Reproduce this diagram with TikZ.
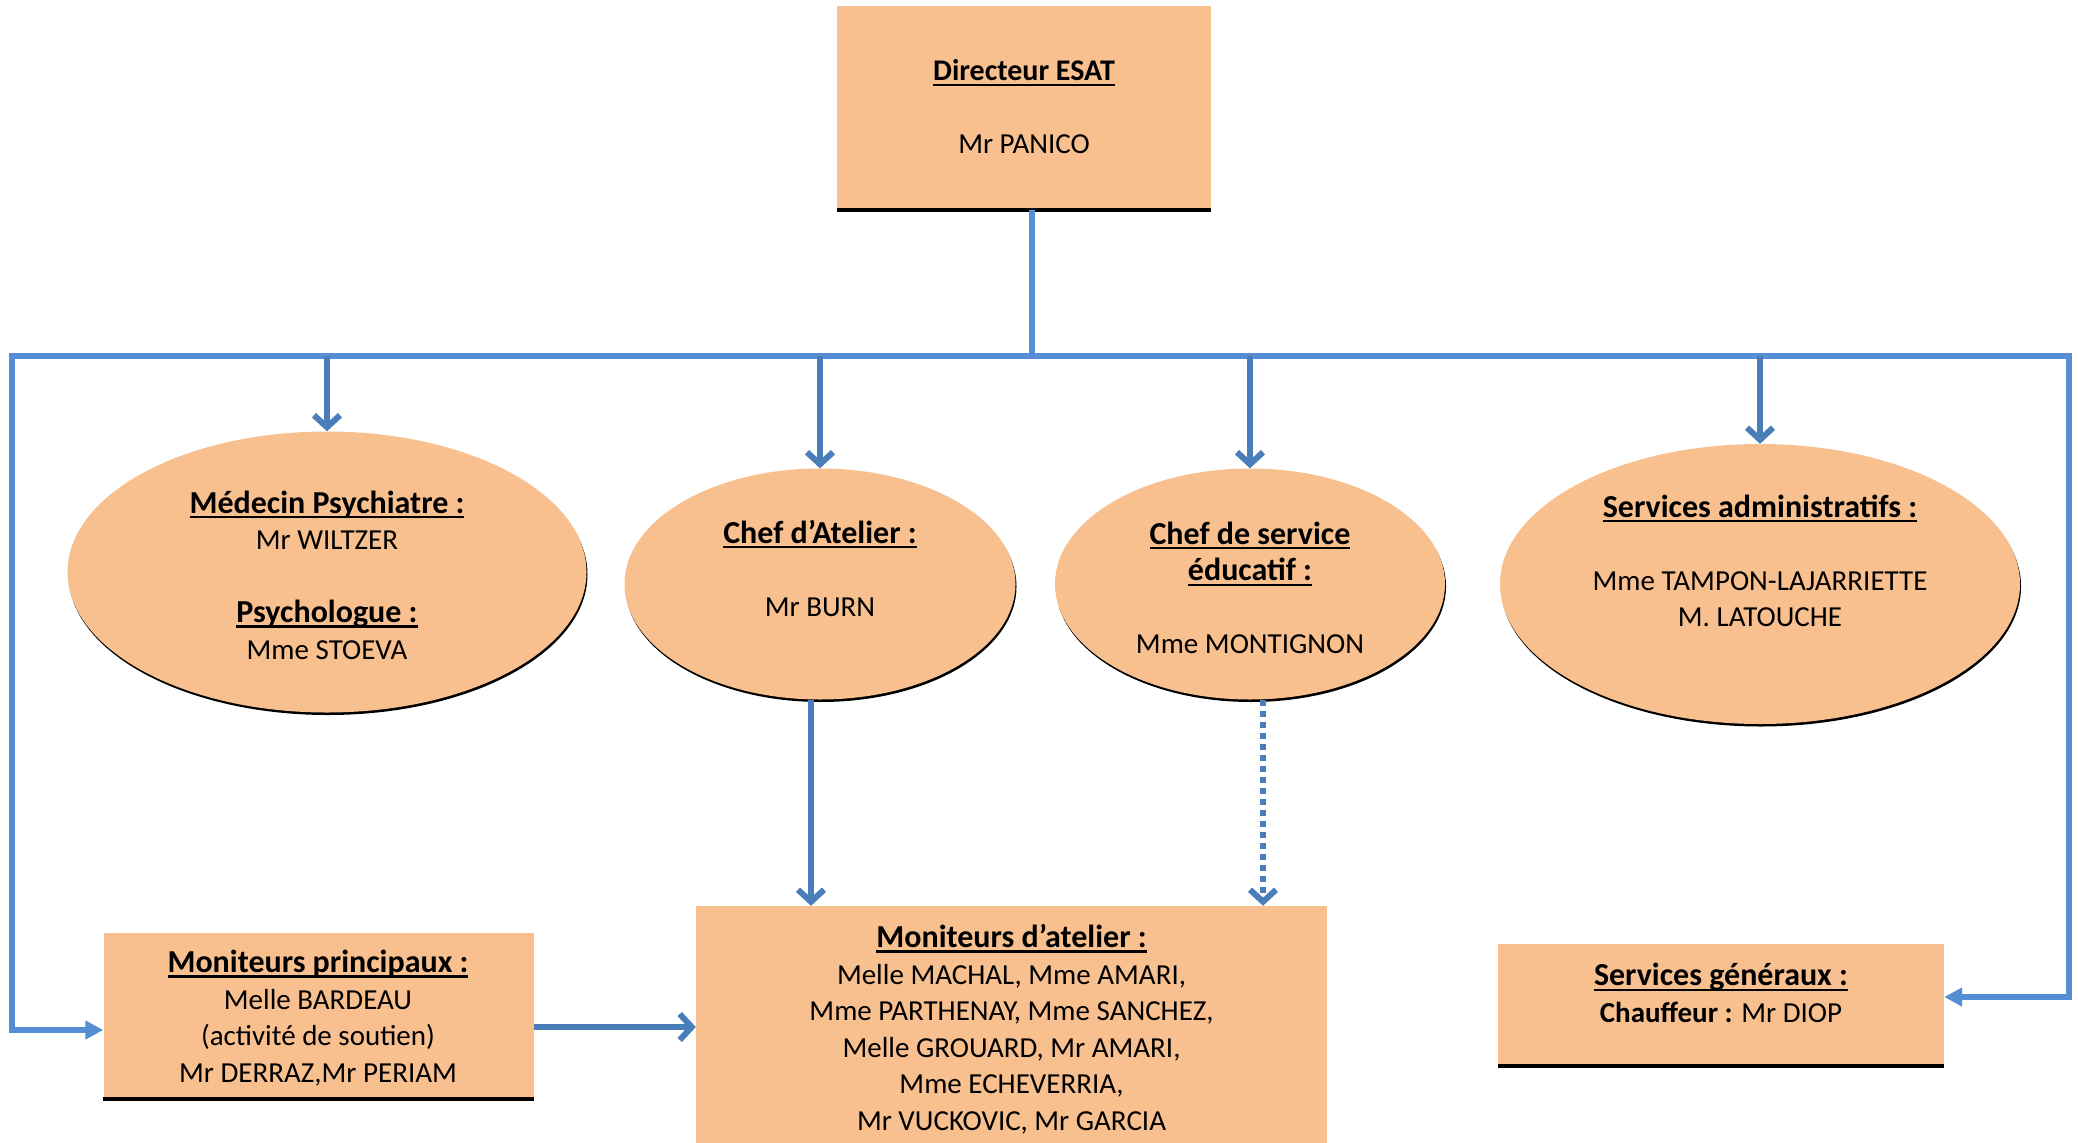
\documentclass[tikz,border=0pt]{standalone}
\usepackage{fontspec}
\setmainfont{Carlito}
\usetikzlibrary{arrows.meta,shapes.geometric,shadows}
\definecolor{peach}{HTML}{F8BF8F}
\definecolor{lineblue}{HTML}{4A7EBB}
\definecolor{busblue}{HTML}{558ED5}
\newsavebox\ulbox
\newcommand\ulb[2][32]{\sbox\ulbox{\fontsize{#1}{36.5}\selectfont\bfseries #2}\rlap{\rule[-5pt]{\wd\ulbox}{2.3pt}}\usebox\ulbox}
\tikzset{
  box/.style={rectangle, fill=peach, inner sep=0pt},
  oval/.style={ellipse, fill=peach, inner sep=0pt,
    general shadow={fill=black, shadow xshift=1pt, shadow yshift=-2.5pt}},
  txt/.style={align=center, font=\fontsize{29}{36.5}\selectfont, inner sep=0pt},
  conn/.style={draw=lineblue, line width=6pt},
  bus/.style={draw=busblue, line width=6pt},
  barb/.style={-{Straight Barb[length=12pt,width=26pt]}},
  tri/.style={-{Triangle[length=18pt,width=18pt]}},
  botline/.style={draw=black, line width=3.5pt},
}
\begin{document}
\begin{tikzpicture}[x=1pt,y=-1pt]
\useasboundingbox (0,0) rectangle (2078,1143);

% top box
\node[box, minimum width=374, minimum height=204] (dir) at (1024,108) {};
\draw[botline] (dir.south west) -- (dir.south east);
\node[txt] (dirtxt) at (1024,107) {\ulb[30]{Directeur ESAT}\\[36.5pt]Mr PANICO};

% ellipses
\node[oval, minimum width=519, minimum height=281] (e1) at (327,572) {};
\node[oval, minimum width=391, minimum height=231] (e2) at (820,584) {};
\node[oval, minimum width=390, minimum height=231] (e3) at (1250,584) {};
\node[oval, minimum width=520, minimum height=280] (e4) at (1760,584) {};

\node[txt] (t1) at (327,575) {\ulb{Médecin Psychiatre :}\\Mr WILTZER\\[36.5pt]\ulb{Psychologue :}\\Mme STOEVA};
\node[txt] (t2) at (820,568) {\ulb{Chef d’Atelier :}\\[36.5pt]Mr BURN};
\node[txt] (t3) at (1250,588) {\ulb{Chef de service}\\\ulb{éducatif :}\\[36.5pt]Mme MONTIGNON};
\node[txt] (t4) at (1760,561) {\ulb{Services administratifs :}\\[36.5pt]Mme TAMPON-LAJARRIETTE\\M. LATOUCHE};

% bottom boxes
\node[box, minimum width=430, minimum height=166] (princ) at (318.5,1016) {};
\draw[botline] (princ.south west) -- (princ.south east);
\node[txt] (princtxt) at (318,1018) {\ulb{Moniteurs principaux :}\\Melle BARDEAU\\(activité de soutien)\\Mr DERRAZ,Mr PERIAM};

\node[box, minimum width=631, minimum height=237] (atel) at (1011.5,1024.5) {};
\node[txt] (ateltxt) at (1011.5,1029) {\ulb{Moniteurs d’atelier :}\\Melle MACHAL, Mme AMARI,\\Mme PARTHENAY, Mme SANCHEZ,\\Melle GROUARD, Mr AMARI,\\Mme ECHEVERRIA,\\Mr VUCKOVIC, Mr GARCIA};

\node[box, minimum width=446, minimum height=122] (gen) at (1721,1005) {};
\draw[botline] (gen.south west) -- (gen.south east);
\node[txt] (gentxt) at (1721,993) {\ulb{Services généraux :}\\\textbf{Chauffeur :} Mr DIOP};

% connectors
\coordinate (busL) at (12,355.5);
\coordinate (busR) at (2069,355.5);
\draw[bus] ([xshift=8pt]dir.south) -- ([xshift=8pt]dir.south |- busL);
\draw[bus] ([xshift=-3pt]busL) -- ([xshift=3pt]busR);
\draw[bus,tri] (busL) |- ([yshift=-14pt]princ.west);
\draw[bus,tri] (busR) |- ([yshift=8pt]gen.east);
\draw[conn,barb] (busL -| e1.north) -- (e1.north);
\draw[conn,barb] (busL -| e2.north) -- (e2.north);
\draw[conn,barb] (busL -| e3.north) -- (e3.north);
\draw[conn,barb] (busL -| e4.north) -- (e4.north);
\draw[conn,barb] ([xshift=-9pt]e2.south) -- ([xshift=-9pt]e2.south |- atel.north);
\draw[conn,barb,dash pattern=on 6pt off 5pt] ([xshift=13pt]e3.south) -- ([xshift=13pt]e3.south |- atel.north);
\draw[conn,barb] ([yshift=-11pt]princ.east) -- ([yshift=-11pt]princ.east -| atel.west);
\end{tikzpicture}
\end{document}
